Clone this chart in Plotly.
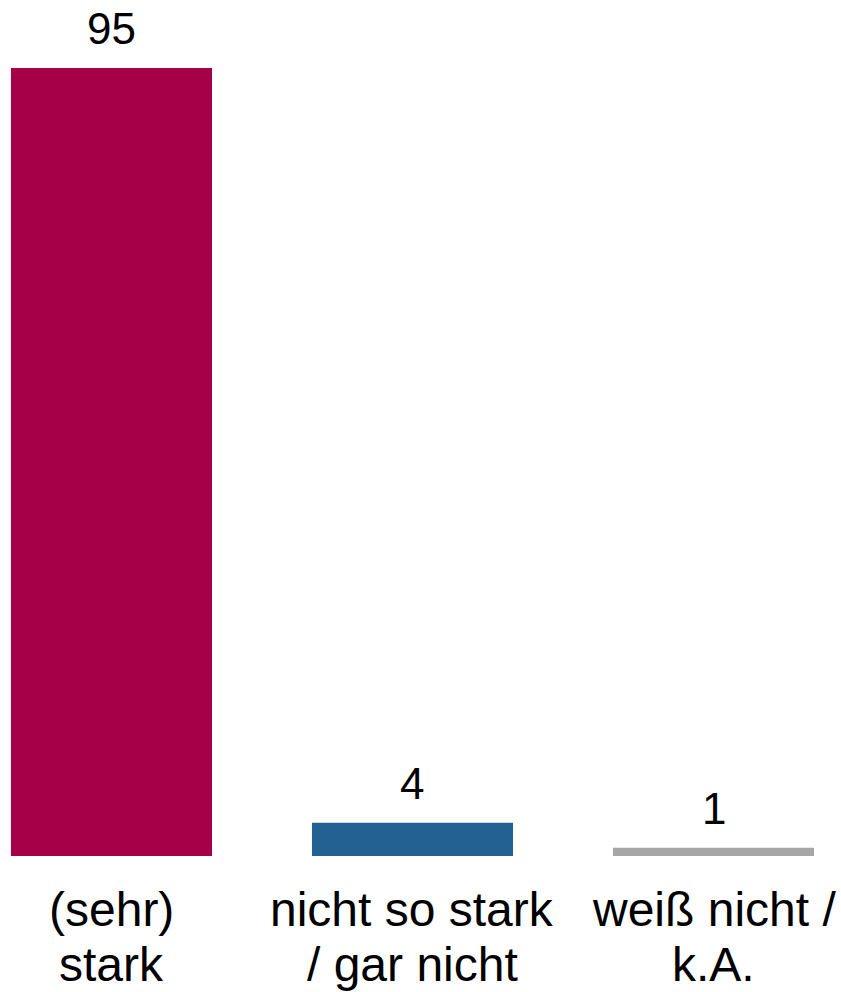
import plotly.graph_objects as go

categories = ["(sehr)<br>stark", "nicht so stark<br>/ gar nicht", "weiß nicht /<br>k.A."]
values = [95, 4, 1]
colors = ["#A50048", "#236192", "#A6A6A6"]

x_pos = list(range(len(categories)))

fig = go.Figure()
fig.add_trace(go.Bar(
    x=x_pos, y=values, marker=dict(color=colors, line=dict(width=0)),
    width=0.668, hoverinfo="skip",
))

annotations = []
for xi, v in zip(x_pos, values):
    annotations.append(dict(
        x=xi, y=v, xref="x", yref="y", text=str(v), showarrow=False,
        yanchor="bottom", yshift=13,
        font=dict(family="Liberation Sans, Arial", size=44, color="#000000"),
    ))
for xi, cat in zip(x_pos, categories):
    for li, line in enumerate(cat.split("<br>")):
        annotations.append(dict(
            x=xi, y=0, xref="x", yref="paper", text=line, showarrow=False,
            yanchor="top", yshift=-25 - li * 55,
            font=dict(family="Liberation Sans, Arial", size=48, color="#000000"),
        ))

fig.update_layout(
    width=841, height=992,
    margin=dict(l=0, r=0, t=0, b=136),
    paper_bgcolor="white", plot_bgcolor="white",
    showlegend=False,
    hovermode=False,
    xaxis=dict(range=[-0.3704, 2.4236], visible=False, fixedrange=True),
    yaxis=dict(range=[0, 103.2], visible=False, fixedrange=True),
    annotations=annotations,
)

fig.write_html(
    "out.html",
    config={"displayModeBar": False, "staticPlot": True},
    post_script="document.body.style.margin='0';document.body.style.overflow='hidden';",
)
